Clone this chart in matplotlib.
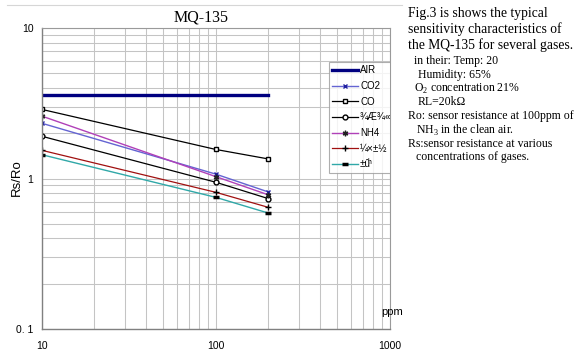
import matplotlib.pyplot as plt
from matplotlib.lines import Line2D
from matplotlib.ticker import FixedLocator, NullFormatter, LogLocator

plt.rcParams['mathtext.fontset'] = 'custom'
plt.rcParams['mathtext.rm'] = 'Liberation Serif'

# data
ppm = [10, 100, 200]
air = [3.6, 3.6, 3.6]
co2 = [2.33, 1.07, 0.815]
co = [2.88, 1.56, 1.35]
alcohol = [1.91, 0.945, 0.736]
nh4 = [2.6, 1.03, 0.78]
toluene = [1.54, 0.81, 0.644]
acetone = [1.44, 0.75, 0.59]

labels = ['AIR', 'CO2', 'CO', '¾Æ¾«', 'NH4', '¼×±½', '±ûͪ']
x_ticks = [10, 100, 1000]
x_ticklabels = ['10', '100', '1000']
y_ticks = [0.1, 1, 10]
y_ticklabels = ['0. 1', '1', '10']

fig = plt.figure(figsize=(5.74, 3.54), dpi=100)
ax = fig.add_axes([0.0726, 0.0706, 0.6063, 0.8503])

ax.plot(ppm, air, color='#000080', lw=2.4, label=labels[0])
ax.plot(ppm, co2, color='#6464d2', lw=1.0, marker='x', ms=3.5, mew=1, mec='#2020a0', label=labels[1])
ax.plot(ppm, co, color='black', lw=0.9, marker='s', ms=3.5, mfc='white', mec='black', label=labels[2])
ax.plot(ppm, alcohol, color='black', lw=0.9, marker='o', ms=3.5, mfc='white', mec='black', label=labels[3])
ax.plot(ppm, nh4, color='#b040b8', lw=1.0, marker=(6, 2, 0), ms=4, mec='#202020', label=labels[4])
ax.plot(ppm, toluene, color='#a01010', lw=0.9, marker='+', ms=5, mec='black', label=labels[5])
ax.plot(ppm, acetone, color='#30a8a8', lw=1.0, marker='_', ms=5, mew=2.5, mec='black', label=labels[6])

ax.set_xscale('log')
ax.set_yscale('log')
ax.set_xlim(10, 1000)
ax.set_ylim(0.1, 10)

ax.xaxis.set_major_locator(FixedLocator(x_ticks))
ax.yaxis.set_major_locator(FixedLocator(y_ticks))
ax.set_xticklabels(x_ticklabels, fontfamily='Liberation Sans', fontsize=7.5)
ax.set_yticklabels(y_ticklabels, fontfamily='Liberation Sans', fontsize=7.5)
ax.xaxis.set_minor_locator(LogLocator(base=10, subs=range(2, 10)))
ax.yaxis.set_minor_locator(LogLocator(base=10, subs=range(2, 10)))
ax.xaxis.set_minor_formatter(NullFormatter())
ax.yaxis.set_minor_formatter(NullFormatter())
ax.tick_params(which='both', length=0)
ax.tick_params(axis='x', pad=8.5)
ax.tick_params(axis='y', pad=6)
ax.grid(True, which='both', color='#c4c4c4', lw=0.75)
ax.set_axisbelow(True)
for s in ax.spines.values():
    s.set_color('#9a9a9a')
    s.set_linewidth(0.8)
ax.spines['left'].set_color('#808080')
ax.spines['bottom'].set_color('#808080')
ax.spines['left'].set_linewidth(1.0)
ax.spines['bottom'].set_linewidth(1.0)

fig.text(201.5 / 574, 1 - 18 / 354, 'MQ-135', fontfamily='Liberation Serif', fontsize=11.5,
         ha='center', va='center')
fig.text(17 / 574, 1 - 177.5 / 354, 'Rs/Ro', fontfamily='Liberation Sans', fontsize=9.5,
         rotation=90, ha='center', va='center')
ax.text(0.975, 0.056, 'ppm', transform=ax.transAxes, fontfamily='Liberation Sans', fontsize=8,
        ha='left', va='center', clip_on=False)

leg = ax.legend(loc='upper left', bbox_to_anchor=(0.8256, 0.887),
                prop={'family': 'Liberation Sans', 'size': 7},
                frameon=True, fancybox=False, borderaxespad=0, handlelength=2.6,
                handletextpad=0.25, labelspacing=0.58, borderpad=0.35)
leg.get_frame().set_edgecolor('#9a9a9a')
leg.get_frame().set_linewidth(0.8)
# the legend is cut off at the right edge of the plot, as in the original
for a in leg.findobj():
    if a is not leg:
        a.set_clip_box(ax.bbox)
        a.set_clip_on(True)

# faint chart-area border at the top
fig.add_artist(Line2D([7 / 574, 402 / 574], [1 - 5 / 354] * 2, color='#d6d6d6', lw=0.8))

# side notes
serif = 'Liberation Serif'
big = [('Fig.3 is shows the typical', 13),
       ('sensitivity characteristics of', 29),
       ('the MQ-135 for several gases.', 45)]
for txt, y in big:
    fig.text(408 / 574, 1 - y / 354, txt, fontfamily=serif, fontsize=9.8, va='center')
small = [(414, 61, 'in their: Temp: 20'),
         (418, 75, 'Humidity: 65%'),
         (414, 89, 'O$_2$ concentration 21%'),
         (418, 102, 'RL=20k\u03a9'),
         (408, 116, 'Ro: sensor resistance at 100ppm of'),
         (416, 130, 'NH$_3$ in the clean air.'),
         (408, 144, 'Rs:sensor resistance at various'),
         (416, 157, 'concentrations of gases.')]
for x, y, txt in small:
    fig.text(x / 574, 1 - y / 354, txt, fontfamily=serif, fontsize=8.5, va='center')

fig.savefig('out.png', dpi=100)
